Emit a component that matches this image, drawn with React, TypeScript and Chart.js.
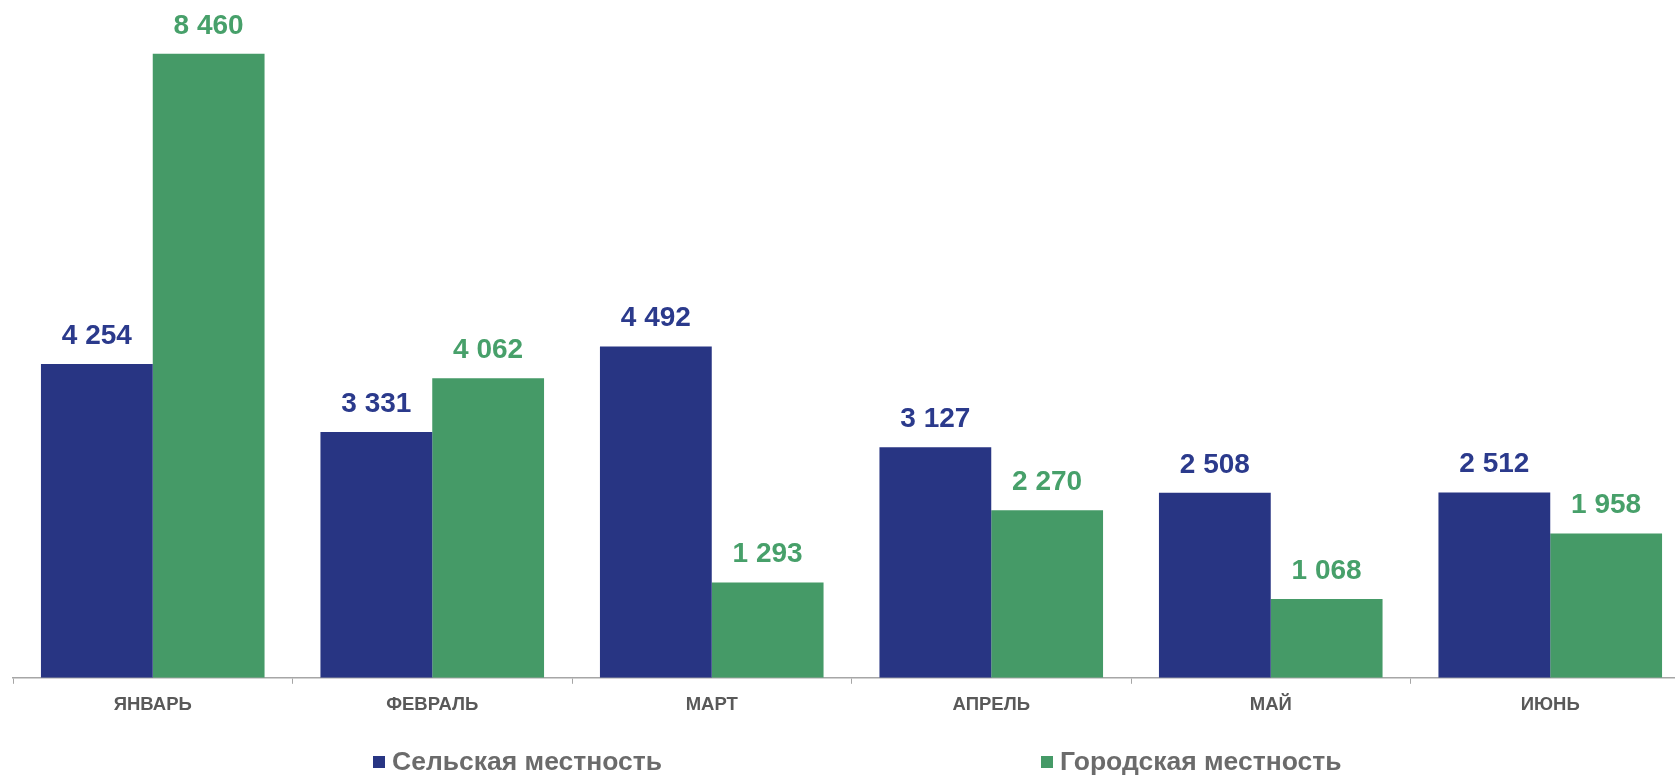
import React, { useEffect, useRef } from "react";
import { Chart, registerables } from "chart.js";

Chart.register(...registerables);

const categories = ["ЯНВАРЬ", "ФЕВРАЛЬ", "МАРТ", "АПРЕЛЬ", "МАЙ", "ИЮНЬ"];
const seriesNames = ["Сельская местность", "Городская местность"];
const ruralValues = [4254, 3331, 4492, 3127, 2508, 2512];
const urbanValues = [8460, 4062, 1293, 2270, 1068, 1958];

const BLUE = "#283583";
const GREEN = "#459A67";
const BLUE_TEXT = "#2B3A8C";
const GREEN_TEXT = "#47A06A";
const FONT = "'Liberation Sans', Arial, sans-serif";

function fmt(v: number): string {
  return String(v).replace(/\B(?=(\d{3})+(?!\d))/g, " ");
}

const labelPlugin = {
  id: "valueLabels",
  afterDatasetsDraw(chart: any) {
    const ctx = chart.ctx;
    ctx.save();
    ctx.font = `bold 28px ${FONT}`;
    ctx.textAlign = "center";
    ctx.textBaseline = "middle";
    chart.data.datasets.forEach((ds: any, i: number) => {
      const meta = chart.getDatasetMeta(i);
      ctx.fillStyle = i === 0 ? BLUE_TEXT : GREEN_TEXT;
      meta.data.forEach((bar: any, j: number) => {
        ctx.fillText(fmt(ds.data[j]), bar.x, bar.y - 28);
      });
    });
    ctx.restore();
  },
};

const legendPlugin = {
  id: "customLegend",
  afterDraw(chart: any) {
    const ctx = chart.ctx;
    ctx.save();
    ctx.font = `bold 26.5px ${FONT}`;
    ctx.textBaseline = "middle";
    ctx.textAlign = "left";
    const y = 762;
    const xs = [373, 1041];
    const colors = [BLUE, GREEN];
    seriesNames.forEach((name, i) => {
      ctx.fillStyle = colors[i];
      ctx.fillRect(xs[i], y - 6, 12, 12);
      ctx.fillStyle = "#6B6B6B";
      ctx.fillText(name, xs[i] + 19, y + 1);
    });
    ctx.restore();
  },
};

export default function App() {
  const ref = useRef<HTMLCanvasElement>(null);
  useEffect(() => {
    if (!ref.current) return;
    const chart = new Chart(ref.current, {
      type: "bar",
      data: {
        labels: categories,
        datasets: [
          { label: seriesNames[0], data: ruralValues, backgroundColor: BLUE, categoryPercentage: 0.8, barPercentage: 1.0 },
          { label: seriesNames[1], data: urbanValues, backgroundColor: GREEN, categoryPercentage: 0.8, barPercentage: 1.0 },
        ],
      },
      options: {
        responsive: false,
        animation: false,
        layout: { padding: { left: 13, right: 10, top: 14, bottom: 49 } },
        plugins: { legend: { display: false }, tooltip: { enabled: false } },
        scales: {
          x: {
            border: { display: true, color: "#A6A6A6", width: 1.5 },
            grid: { display: true, drawOnChartArea: false, drawTicks: true, tickLength: 6, color: "#A6A6A6", offset: true },
            ticks: { color: "#595959", font: { family: FONT, size: 18.5, weight: "bold" }, padding: 10 },
          },
          y: { display: false, min: 0, max: 9000 },
        },
      },
      plugins: [labelPlugin, legendPlugin],
    });
    return () => chart.destroy();
  }, []);
  return (
    <div style={{ position: "absolute", left: 0, top: 0, width: 1675, height: 775, overflow: "hidden", background: "#fff" }}>
      <canvas ref={ref} width={1700} height={775} style={{ display: "block" }} />
    </div>
  );
}
